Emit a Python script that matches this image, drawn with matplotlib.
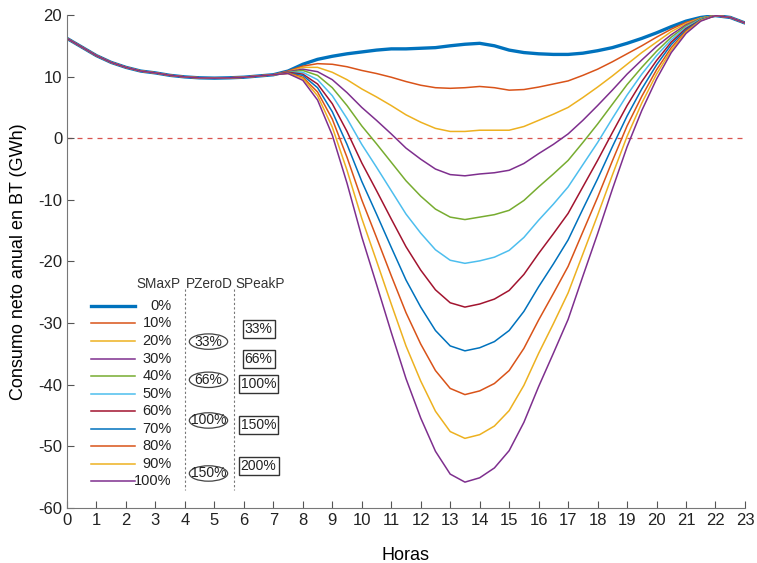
import matplotlib.pyplot as plt
import numpy as np
from matplotlib.patches import Ellipse

# horas del dia en pasos de media hora
horas = np.arange(0, 23.5, 0.5)

# tramo comun de madrugada (0h a 6.5h), igual para todos los escenarios
consumo_madrugada = [16.2, 14.8, 13.4, 12.3, 11.5, 10.9, 10.6, 10.2, 9.95, 9.8, 9.75, 9.8, 9.9, 10.1]

# consumo neto de 7h a 23h para cada nivel de SMaxP
smax_000 = [10.3, 10.9, 12.0, 12.8, 13.3, 13.7, 14.0, 14.3, 14.5, 14.5, 14.6, 14.7, 15.0, 15.25, 15.4, 15.0, 14.3,
            13.9, 13.7, 13.6, 13.6, 13.8, 14.2, 14.7, 15.4, 16.2, 17.1, 18.1, 19.0, 19.6, 19.9, 19.6, 18.7]
smax_010 = [10.3, 10.9, 11.7, 12.1, 12.0, 11.6, 11.0, 10.5, 9.9, 9.2, 8.6, 8.2, 8.1, 8.2, 8.4, 8.2, 7.8,
            7.9, 8.3, 8.8, 9.3, 10.2, 11.2, 12.4, 13.7, 15.0, 16.4, 17.7, 18.8, 19.5, 19.9, 19.6, 18.7]
smax_020 = [10.3, 10.8, 11.5, 11.5, 10.7, 9.5, 8.0, 6.7, 5.3, 3.8, 2.6, 1.6, 1.1, 1.1, 1.3, 1.3, 1.3,
            1.9, 2.9, 3.9, 5.0, 6.6, 8.3, 10.1, 12.0, 13.9, 15.6, 17.3, 18.6, 19.5, 19.9, 19.6, 18.7]
smax_030 = [10.3, 10.8, 11.2, 10.8, 9.5, 7.4, 5.0, 2.9, 0.7, -1.6, -3.4, -5.0, -5.9, -6.1, -5.8, -5.6, -5.2,
            -4.1, -2.5, -1.0, 0.7, 2.9, 5.3, 7.8, 10.4, 12.7, 14.9, 16.8, 18.4, 19.4, 19.9, 19.6, 18.7]
smax_040 = [10.3, 10.7, 11.0, 10.2, 8.2, 5.3, 2.0, -0.9, -3.9, -6.9, -9.4, -11.5, -12.8, -13.2, -12.8, -12.4, -11.7,
            -10.1, -7.9, -5.8, -3.6, -0.7, 2.3, 5.5, 8.7, 11.5, 14.1, 16.4, 18.2, 19.4, 19.9, 19.6, 18.7]
smax_050 = [10.3, 10.7, 10.7, 9.5, 6.9, 3.2, -1.0, -4.7, -8.5, -12.3, -15.4, -18.1, -19.8, -20.3, -19.9, -19.3, -18.2,
            -16.1, -13.3, -10.7, -7.9, -4.3, -0.7, 3.2, 7.0, 10.4, 13.4, 16.0, 18.0, 19.3, 19.9, 19.6, 18.7]
smax_060 = [10.3, 10.7, 10.4, 8.8, 5.6, 1.1, -4.0, -8.5, -13.1, -17.6, -21.4, -24.6, -26.7, -27.4, -26.9, -26.1, -24.7,
            -22.1, -18.7, -15.5, -12.2, -7.9, -3.6, 0.9, 5.3, 9.2, 12.6, 15.6, 17.8, 19.2, 19.9, 19.6, 18.7]
smax_070 = [10.3, 10.6, 10.2, 8.2, 4.3, -1.0, -7.0, -12.3, -17.7, -23.0, -27.4, -31.2, -33.7, -34.5, -34.0, -33.0, -31.2,
            -28.1, -24.1, -20.4, -16.5, -11.5, -6.6, -1.4, 3.6, 8.0, 11.9, 15.2, 17.6, 19.2, 19.9, 19.6, 18.7]
smax_080 = [10.3, 10.6, 9.9, 7.5, 3.1, -3.1, -10.0, -16.1, -22.3, -28.3, -33.4, -37.7, -40.6, -41.6, -41.0, -39.8, -37.7,
            -34.1, -29.5, -25.2, -20.8, -15.2, -9.6, -3.7, 2.0, 6.8, 11.1, 14.7, 17.4, 19.1, 19.9, 19.6, 18.7]
smax_090 = [10.3, 10.5, 9.7, 6.9, 1.8, -5.2, -13.0, -19.9, -26.9, -33.7, -39.4, -44.3, -47.6, -48.7, -48.1, -46.7, -44.2,
            -40.1, -34.9, -30.1, -25.1, -18.8, -12.5, -6.0, 0.3, 5.7, 10.4, 14.3, 17.2, 19.1, 19.9, 19.6, 18.7]
smax_100 = [10.3, 10.5, 9.4, 6.2, 0.5, -7.3, -16.0, -23.7, -31.5, -39.0, -45.4, -50.8, -54.5, -55.8, -55.1, -53.5, -50.7,
            -46.1, -40.3, -34.9, -29.4, -22.4, -15.5, -8.3, -1.4, 4.5, 9.6, 13.9, 17.0, 19.0, 19.9, 19.6, 18.7]

etiquetas = ["0%", "10%", "20%", "30%", "40%", "50%", "60%", "70%", "80%", "90%", "100%"]
pzerod = ["33%", "66%", "100%", "150%"]
speakp = ["33%", "66%", "100%", "150%", "200%"]

series = [smax_000, smax_010, smax_020, smax_030, smax_040, smax_050,
          smax_060, smax_070, smax_080, smax_090, smax_100]

# paleta por defecto de matlab
colores = ["#0072BD", "#D95319", "#EDB120", "#7E2F8E", "#77AC30", "#4DBEEE",
           "#A2142F", "#0072BD", "#D95319", "#EDB120", "#7E2F8E"]

plt.rcParams["font.family"] = ["Liberation Sans", "DejaVu Sans"]
plt.rcParams["axes.unicode_minus"] = False

fig = plt.figure(figsize=(7.57, 5.63), dpi=100)
ax = fig.add_axes([0.0885, 0.0977, 0.8956, 0.8757])

for i, valores in enumerate(series):
    consumo = consumo_madrugada + valores
    ax.plot(horas, consumo, color=colores[i], linewidth=2.4 if i == 0 else 1.1,
            solid_capstyle="round", solid_joinstyle="round")

# linea de referencia en cero
ax.axhline(0, color="#D9534F", linestyle=(0, (4, 4)), linewidth=0.9, zorder=0)

ax.set_xlim(0, 23)
ax.set_ylim(-60, 20)
ax.set_xticks(range(0, 24))
ax.set_yticks(range(-60, 21, 10))
ax.tick_params(direction="in", length=5, colors="#555555", labelcolor="#222222", labelsize=12)
ax.spines["top"].set_visible(False)
ax.spines["right"].set_visible(False)
ax.spines["left"].set_color("#777777")
ax.spines["bottom"].set_color("#777777")
ax.set_xlabel("Horas", fontsize=13, labelpad=14)
ax.set_ylabel("Consumo neto anual en BT (GWh)", fontsize=13, labelpad=8)

# leyenda dibujada a mano con tres columnas
fila0 = -27.2
paso = -2.85
ax.text(3.1, -23.7, "SMaxP", fontsize=9.8, ha="center", va="center", color="#333333")
ax.text(4.82, -23.7, "PZeroD", fontsize=9.8, ha="center", va="center", color="#333333")
ax.text(6.55, -23.7, "SPeakP", fontsize=9.8, ha="center", va="center", color="#333333")
for xsep in [4.0, 5.67]:
    ax.plot([xsep, xsep], [-24.5, -57.0], color="#777777", linestyle=(0, (2, 2)), linewidth=0.8)

for i, etiqueta in enumerate(etiquetas):
    y = fila0 + paso * i
    ax.plot([0.82, 2.3], [y, y], color=colores[i], linewidth=2.4 if i == 0 else 1.1)
    ax.text(3.55, y, etiqueta, fontsize=10.5, ha="right", va="center", color="#222222")

# PZeroD en elipses
y_pzerod = [-33.0, -39.2, -45.8, -54.4]
for texto, y in zip(pzerod, y_pzerod):
    ax.add_patch(Ellipse((4.8, y), 1.3, 2.5, fill=False, edgecolor="#444444", linewidth=0.9))
    ax.text(4.8, y, texto, fontsize=10, ha="center", va="center", color="#222222")

# SPeakP en recuadros
y_speakp = [-30.9, -35.8, -39.9, -46.6, -53.2]
for texto, y in zip(speakp, y_speakp):
    ax.text(6.5, y, texto, fontsize=10, ha="center", va="center", color="#222222",
            bbox=dict(boxstyle="square,pad=0.15", facecolor="white", edgecolor="#333333", linewidth=1.0))

fig.savefig("out.png", dpi=100)
plt.close(fig)
